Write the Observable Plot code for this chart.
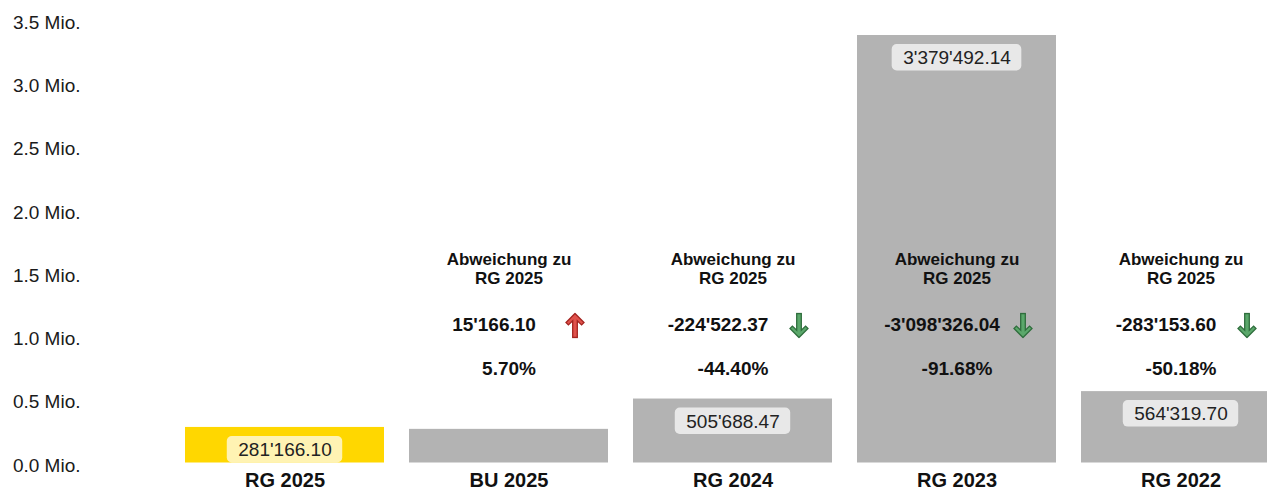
<!DOCTYPE html>
<html>
<head>
<meta charset="utf-8">
<script src="https://cdn.jsdelivr.net/npm/d3@7"></script>
<script src="https://cdn.jsdelivr.net/npm/@observablehq/plot@0.6"></script>
<style>
  html, body { margin: 0; padding: 0; background: #fff; overflow: hidden; }
  #chart { width: 1267px; height: 491px; overflow: hidden; }
</style>
</head>
<body>
<div id="chart"></div>
<script>
// ---- data ----
const categories = ["RG 2025", "BU 2025", "RG 2024", "RG 2023", "RG 2022"];
const values = [281166.10, 266000.00, 505688.47, 3379492.14, 564319.70];
const barColors = ["#FFD700", "#B3B3B3", "#B3B3B3", "#B3B3B3", "#B3B3B3"];
const showValue = [true, false, true, true, true];

const compareCategories = ["BU 2025", "RG 2024", "RG 2023", "RG 2022"];
const deviations = [15166.10, -224522.37, -3098326.04, -283153.60];
const deviationPct = [5.70, -44.40, -91.68, -50.18];
const compareTitle = "Abweichung zu\nRG 2025";

const yTicks = [0, 500000, 1000000, 1500000, 2000000, 2500000, 3000000, 3500000];

// ---- helpers ----
const FONT = "Liberation Sans, Arial, Helvetica, sans-serif";
const fmt = d3.formatLocale({decimal: ".", thousands: "'", grouping: [3], currency: ["", ""], minus: "-"}).format(",.2f");
const fmtPct = d => d3.format(".2f")(d).replace("−", "-") + "%";

const bars = categories.map((c, i) => ({cat: c, value: values[i], color: barColors[i], show: showValue[i]}));
const labeled = bars.filter(d => d.show);
const devData = compareCategories.map((c, i) => ({cat: c, dev: deviations[i], pct: deviationPct[i]}));

const width = 1267, height = 491;
const marginLeft = 184, marginRight = -14, marginTop = 19.75, marginBottom = 28.5;
const xOpts = {type: "band", domain: categories, paddingInner: 0.1136, paddingOuter: 0,
               range: [marginLeft, width - marginRight]};
const bw = Plot.scale({x: xOpts}).bandwidth;

const canvas = document.createElement("canvas");
const ctx = canvas.getContext("2d");
ctx.font = "19px 'Liberation Sans'";
const textW = s => ctx.measureText(s).width;

const arrowSvg = (up) => {
  const path = up
    ? "M10 1 L19 10 L16.6 12.4 L12.3 8.3 L12.3 25 L7.7 25 L7.7 8.3 L3.4 12.4 L1 10 Z"
    : "M10 25 L19 16 L16.6 13.6 L12.3 17.7 L12.3 1 L7.7 1 L7.7 17.7 L3.4 13.6 L1 16 Z";
  const fill = up ? "#E0524C" : "#5BA86B";
  const stroke = up ? "#A3231F" : "#2F6E3D";
  const svg = `<svg xmlns="http://www.w3.org/2000/svg" width="20" height="26" viewBox="0 0 20 26"><path d="${path}" fill="${fill}" stroke="${stroke}" stroke-width="1.3" stroke-linejoin="miter"/></svg>`;
  return "data:image/svg+xml;charset=utf-8," + encodeURIComponent(svg);
};
const upSrc = arrowSvg(true), downSrc = arrowSvg(false);

// value boxes: one bar mark per label, sized from the measured text width
const boxMarks = labeled.map(d => {
  const w = textW(fmt(d.value)) + 22;
  const inset = (bw - w) / 2;
  return Plot.barY([d], {
    x: "cat", y1: "value", y2: "value",
    insetTop: 9, insetBottom: -35.5, insetLeft: inset, insetRight: inset,
    rx: 5, fill: "white", fillOpacity: 0.7
  });
});

const chart = Plot.plot({
  width, height, marginLeft, marginRight, marginTop, marginBottom,
  style: {fontFamily: FONT, background: "white", color: "#111", overflow: "hidden"},
  x: xOpts,
  y: {domain: [0, 3500000]},
  color: {type: "identity"},
  marks: [
    Plot.axisY({ticks: yTicks, tickFormat: d => (d / 1e6).toFixed(1) + " Mio.", label: null,
                tickSize: 0, tickPadding: 104, fontSize: 19, dy: 2.5, fill: "#1a1a1a"}),
    Plot.axisX({tickSize: 0, tickPadding: 10, fontSize: 20, fontWeight: "bold", fill: "#111", label: null}),
    Plot.barY(bars, {x: "cat", y: "value", fill: "color"}),
    ...boxMarks,
    Plot.text(labeled, {x: "cat", y: "value", text: d => fmt(d.value), dy: 22.5,
                        fontSize: 19, fill: "#222", lineAnchor: "middle"}),
    Plot.text(devData, {x: "cat", text: () => compareTitle, frameAnchor: "top", lineAnchor: "middle",
                        textAnchor: "middle", dy: 248.5, fontSize: 17, fontWeight: "bold",
                        lineHeight: 1.12, fill: "#111"}),
    Plot.text(devData, {x: "cat", text: d => fmt(d.dev), frameAnchor: "top", lineAnchor: "middle",
                        textAnchor: "middle", dy: 304.75, dx: -15, fontSize: 19, fontWeight: "bold", fill: "#111"}),
    Plot.image(devData, {x: "cat", src: d => d.dev > 0 ? upSrc : downSrc, frameAnchor: "top",
                         dy: 305.25, dx: 66, width: 20, height: 26}),
    Plot.text(devData, {x: "cat", text: d => fmtPct(d.pct), frameAnchor: "top", lineAnchor: "middle",
                        textAnchor: "middle", dy: 348.75, fontSize: 19, fontWeight: "bold", fill: "#111"})
  ]
});
document.getElementById("chart").appendChild(chart);
</script>
</body>
</html>
